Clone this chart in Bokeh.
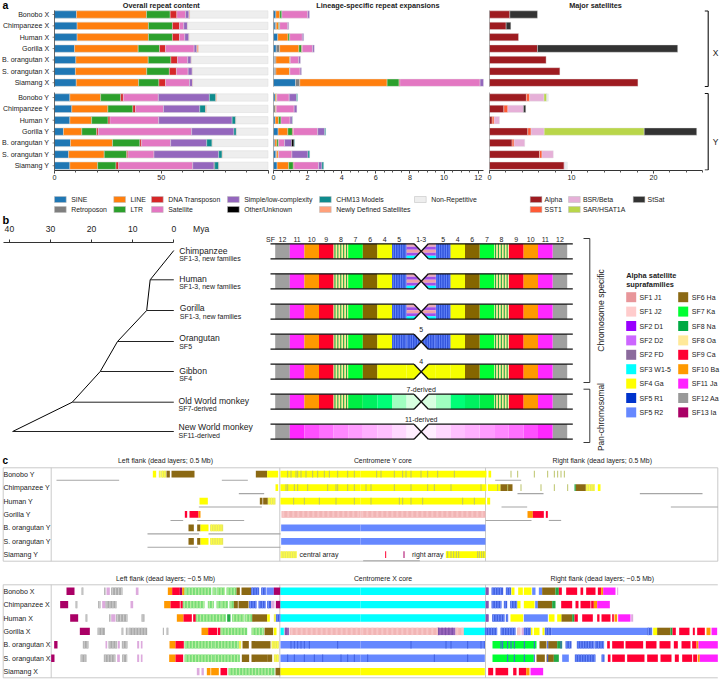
import numpy as np
from bokeh.core.properties import value
from bokeh.embed import file_html
from bokeh.layouts import column, row
from bokeh.models import FixedTicker, Label, LinearAxis, Range1d
from bokeh.plotting import figure
from bokeh.resources import INLINE

FONT = "Liberation Sans"
INK = "#222222"

# ---------- panel a ----------
rows_x = ["Bonobo X", "Chimpanzee X", "Human X", "Gorilla X", "B. orangutan X", "S. orangutan X", "Siamang X"]
rows_y = ["Bonobo Y", "Chimpanzee Y", "Human Y", "Gorilla Y", "B. orangutan Y", "S. orangutan Y", "Siamang Y"]
row_labels = rows_x + rows_y
repeat_colors = ["#1f77b4", "#7f7f7f", "#ff7f0e", "#2ca02c", "#d62728", "#e377c2", "#9467bd", "#000000", "#0f8b8d", "#ffa07a", "#eeeeee"]

pct_sine = [10.3, 10.6, 10.6, 9.4, 10.0, 9.8, 10.2, 7.2, 8.1, 7.2, 4.2, 7.5, 6.6, 7.2]
pct_retro = [0, 0, 0, 0, 0, 0, 0, 0, 0, 0, 0, 0, 0, 0]
pct_line = [32.8, 33.4, 33.4, 29.8, 33.9, 33.4, 29.2, 14.4, 16.9, 10.2, 8.6, 19.7, 16.7, 13.0]
pct_ltr = [11.1, 11.25, 11.25, 10.0, 10.6, 10.6, 9.5, 9.4, 11.7, 7.7, 6.9, 12.8, 10.5, 8.6]
pct_dna = [3.1, 3.3, 3.3, 2.8, 3.1, 3.3, 3.1, 1.25, 1.25, 0.9, 0.8, 0.8, 0.6, 1.25]
pct_sat = [4.1, 2.0, 2.5, 13.4, 4.8, 5.5, 11.25, 16.4, 13.1, 22.8, 43.75, 13.6, 12.2, 34.7]
pct_simple = [1.6, 1.7, 1.9, 1.25, 1.6, 1.9, 1.4, 23.9, 17.0, 34.4, 19.8, 16.9, 30.3, 10.0]
pct_other = [0.1, 0, 0, 0.1, 0, 0, 0, 0, 0, 0, 0, 0, 0, 0.3]
pct_chm13 = [0, 0, 0, 0, 0, 0, 0, 3.0, 2.7, 1.7, 1.1, 2.5, 1.6, 1.9]
pct_newly = [0.3, 0.1, 0.1, 0.7, 0.1, 0.1, 0.2, 0.4, 0.4, 0.1, 0.1, 0.1, 0.2, 0.1]
pct_table = [pct_sine, pct_retro, pct_line, pct_ltr, pct_dna, pct_sat, pct_simple, pct_other, pct_chm13, pct_newly]

mb_sine = [0.14, 0.10, 0.25, 0.16, 0.06, 0.06, 1.29, 0.10, 0.02, 0.10, 0.27, 0.08, 0.14, 0.21]
mb_retro = [0, 0.06, 0, 0.20, 0.08, 0.08, 0.25, 0, 0.10, 0, 0, 0, 0.04, 0]
mb_line = [0.23, 0.14, 0.60, 1.13, 0.82, 0.80, 5.12, 0.08, 0.04, 0.20, 0.57, 0.12, 0.10, 0.68]
mb_ltr = [0.12, 0.06, 0.10, 0.16, 0.02, 0.02, 0.70, 0.02, 0, 0.14, 0.27, 0.10, 0.02, 0.27]
mb_dna = [0, 0, 0, 0.04, 0, 0, 0.05, 0, 0, 0, 0.06, 0, 0, 0.04]
mb_sat = [1.52, 0.47, 0.74, 0.60, 0.50, 0.60, 4.70, 0.72, 1.05, 0.53, 1.42, 0.35, 0.78, 1.44]
mb_simple = [0.10, 0.06, 0.08, 0.10, 0.10, 0.08, 0.20, 0.43, 0.16, 0.13, 0.41, 0.41, 0.94, 0.20]
mb_other = [0, 0, 0, 0, 0, 0, 0, 0, 0, 0, 0, 0.14, 0, 0]
mb_chm13 = [0, 0, 0, 0, 0, 0, 0, 0.06, 0, 0.02, 0.06, 0.04, 0.10, 0.10]
mb_table = [mb_sine, mb_retro, mb_line, mb_ltr, mb_dna, mb_sat, mb_simple, mb_other, mb_chm13]

sat_colors = ["#9e1b20", "#ff5a36", "#e6b0d8", "#b9d64a", "#333333", "#e8eef0"]
sat_alpha = [2.48, 2.03, 3.54, 5.85, 6.9, 8.58, 18.1, 4.5, 1.75, 0.33, 4.67, 2.76, 6.1, 9.1]
sat_sst1 = [0, 0, 0, 0, 0, 0, 0, 0.4, 0.49, 0.24, 0.4, 0.24, 0.3, 0]
sat_bsr = [0, 0, 0, 0, 0, 0, 0, 1.75, 1.9, 0.65, 1.6, 1.3, 1.38, 0.1]
sat_sar = [0, 0, 0, 0, 0, 0, 0, 0.33, 0, 0, 12.2, 0, 0, 0]
sat_stsat = [3.37, 0.57, 0, 17.1, 0, 0, 0, 0, 0.28, 0, 6.4, 0, 0, 0]
sat_minor = [0, 0, 0, 0, 0, 0, 0, 0.2, 0, 0, 0, 0, 0, 0.3]
sat_table = [sat_alpha, sat_sst1, sat_bsr, sat_sar, sat_stsat, sat_minor]

row_pos = [0, 1, 2, 3, 4, 5, 6, 7.3, 8.3, 9.3, 10.3, 11.3, 12.3, 13.3]


def blank(w, h, xr, yr, **kw):
    p = figure(width=w, height=h, x_range=xr, y_range=yr, output_backend="svg", toolbar_location=None,
               x_axis_location=kw.pop("xloc", None), y_axis_location=kw.pop("yloc", None),
               min_border_left=kw.pop("left", 0), min_border_right=0,
               min_border_top=kw.pop("top", 0), min_border_bottom=kw.pop("bottom", 0))
    p.outline_line_color = None
    p.grid.visible = False
    p.background_fill_color = None
    p.border_fill_color = None
    return p


def txt(p, x, y, s, size=7.0, align="left", bold=False, color=INK, angle=0, **kw):
    xs = x if isinstance(x, (list, np.ndarray)) else [x]
    ys = y if isinstance(y, (list, np.ndarray)) else [y]
    ss = s if isinstance(s, list) else [s]
    p.text(xs, ys, text=ss, text_font=value(FONT), text_font_size=f"{size}px", text_align=align,
           text_baseline="middle", text_color=color, angle=angle,
           text_font_style="bold" if bold else "normal", **kw)


def style_axis(ax):
    ax.axis_line_color = "#333333"
    ax.major_tick_line_color = "#333333"
    ax.minor_tick_line_color = "#555555"
    ax.major_tick_out = 3
    ax.major_tick_in = 0
    ax.minor_tick_out = 2
    ax.minor_tick_in = 0
    ax.major_label_text_font = FONT
    ax.major_label_text_font_size = "7.2px"
    ax.major_label_text_color = INK
    ax.major_label_standoff = 1


def bar_panel(w, left, xmin, xmax, table, colors, title, title_x, xlabel, label_x, ticks, minors, bound, total_to=None):
    yr = Range1d(13.72, -1.23)
    p = blank(w, 190, Range1d(xmin, xmax), yr, xloc="below", left=left, bottom=20)
    p.extra_y_ranges["px"] = Range1d(170, 0)
    cum = np.zeros(14)
    ypos = np.array(row_pos)
    if total_to is not None:
        p.hbar(y=ypos, left=0, right=total_to, height=0.64, color=repeat_colors[-1], line_color="#dddddd", line_width=0.5)
    for vals, c in zip(table, colors):
        vals = np.array(vals, dtype=float)
        keep = vals > 0
        p.hbar(y=ypos[keep], left=cum[keep], right=(cum + vals)[keep], height=0.64, fill_color=c,
               line_color="#e4e4e4", line_width=0.4)
        cum += vals
    ax = p.xaxis[0]
    style_axis(ax)
    ax.ticker = FixedTicker(ticks=ticks, minor_ticks=minors)
    ax.bounds = bound
    p.segment(x0=[0, 0], y0=[-0.36, 6.86], x1=[0, 0], y1=[6.36, 13.72], line_color="#444444", line_width=0.8)
    p.text([title_x], [4.5], text=[title], y_range_name="px", text_font=value(FONT), text_font_size="7.3px",
           text_font_style="bold", text_align="center", text_baseline="middle", text_color=INK)
    p.add_layout(Label(x=label_x, y=184, y_range_name="px", text=xlabel, text_font=FONT, text_font_size="7px",
                       text_color=INK, text_align="center", text_baseline="middle"))
    return p


a1 = bar_panel(270, 0, -54 / 2.135, 216 / 2.135, pct_table, repeat_colors, "Overall repeat content", 50, "% of chromosome", 50,
               [0, 50, 100], list(range(0, 101, 10)), (0, 100), total_to=100)
a2 = bar_panel(216, 3, 0, 213 / 17.06, mb_table, repeat_colors, "Lineage-specific repeat expansions", 6.12, "Megabases", 6.2,
               list(range(0, 13, 2)), [i / 2 for i in range(0, 25)], (0, 12.3))
a3 = bar_panel(234, 3, 0, 231 / 8.2, sat_table, sat_colors, "Major satellites", 12.93, "Megabases", 12.9,
               [0, 10, 20], list(range(0, 27, 2)), (0, 26))

a1.extra_x_ranges["px"] = Range1d(0, 270)
txt(a1, [48.6] * 14, row_pos, row_labels, size=7.06, align="right", x_range_name="px")
txt(a1, [2], [4.8], "a", size=10.5, bold=True, color="#000000", x_range_name="px", y_range_name="px")
a1.segment(x0=[-0.9] * 14, y0=row_pos, x1=[0] * 14, y1=row_pos, line_color="#555555", line_width=0.7)
a1.xaxis[0].major_label_overrides = {100: ""}
a1.add_layout(Label(x=100, y=13.72, text="100", text_font=FONT, text_font_size="7.2px", text_color=INK, text_align="right",
                    text_baseline="top", x_offset=1.5, y_offset=-4))

# brackets for X and Y
a3.extra_x_ranges["px"] = Range1d(489, 720)
bx = [704.3, 707.7, 704.3, 704.3, 707.7, 704.3]
by0 = [10.5, 10.5, 86, 93, 93, 169.5]
bx1 = [707.7, 707.7, 707.7, 707.7, 707.7, 707.7]
by1 = [10.5, 86, 86, 93, 169.5, 169.5]
a3.segment(bx, by0, bx1, by1, x_range_name="px", y_range_name="px", line_color="#111111", line_width=1.1)
a3.text([715, 715], [52, 141], text=["X", "Y"], x_range_name="px", y_range_name="px", text_font=value(FONT),
        text_font_size="8.5px", text_align="center", text_baseline="middle", text_color=INK)

# legend strip
leg = blank(720, 25, Range1d(0, 720), Range1d(215, 190))
leg_x = [54, 54, 113.3, 113.3, 151, 151, 227, 227, 319, 319, 414]
leg_row = [199, 209, 199, 209, 199, 209, 199, 209, 199, 209, 199]
leg_names = ["SINE", "Retroposon", "LINE", "LTR", "DNA Transposon", "Satellite", "Simple/low-complexity", "Other/Unknown", "CHM13 Models", "Newly Defined Satellites", "Non-Repetitive"]
leg_cols = ["#1f77b4", "#7f7f7f", "#ff7f0e", "#2ca02c", "#d62728", "#e377c2", "#9467bd", "#000000", "#0f8b8d", "#ffa07a", "#eeeeee"]
sleg_x = [529.7, 529.7, 568, 568, 632.7]
sleg_row = [199, 209, 199, 209, 199]
sleg_names = ["Alpha", "SST1", "BSR/Beta", "SAR/HSAT1A", "StSat"]
sleg_cols = ["#9e1b20", "#ff5a36", "#e6b0d8", "#b9d64a", "#333333"]
for xs, ys, names, cols in [(leg_x, leg_row, leg_names, leg_cols), (sleg_x, sleg_row, sleg_names, sleg_cols)]:
    xs = np.array(xs)
    ys = np.array(ys)
    off = 16.7 if names is leg_names else 14.4
    leg.quad(left=xs, right=xs + 11.7, top=ys - 3, bottom=ys + 3, fill_color=cols, line_color="#bbbbbb", line_width=0.5)
    txt(leg, list(xs + off), list(ys), list(names), size=6.9)

# ---------- panel b : tree ----------
B_BOTTOM = 455
mya_range = Range1d(42.16, -21.09)
# the time axis sits on the bottom edge of its own strip; ticks point up, labels are written above them
mya_strip = blank(260, 29, mya_range, Range1d(242, 215), xloc="below", bottom=2)
mya_strip.extra_x_ranges["px"] = Range1d(0, 260)
mya_ticks = [40, 30, 20, 10, 0]
tax = mya_strip.xaxis[0]
style_axis(tax)
tax.ticker = FixedTicker(ticks=mya_ticks)
tax.bounds = (41.4, 0)
tax.major_tick_out = 0
tax.major_tick_in = 3
tax.axis_line_width = 1
tax.major_label_text_font_size = "1px"
tax.major_label_text_color = "#ffffff"
tax.major_label_overrides = {t: "" for t in mya_ticks}
tax.major_label_standoff = 0
txt(mya_strip, mya_ticks, [228] * 5, [str(t) for t in mya_ticks], size=8.6, align="center")
txt(mya_strip, [192.5], [228.5], "Mya", size=8.6, x_range_name="px")
txt(mya_strip, [2], [219.5], "b", size=11, bold=True, color="#000000", x_range_name="px")

tree = blank(260, B_BOTTOM - 215 - 29, mya_range, Range1d(B_BOTTOM, 244))
tree.extra_x_ranges["px"] = Range1d(0, 260)

tip_names = ["Chimpanzee", "Human", "Gorilla", "Orangutan", "Gibbon", "Old World monkey", "New World monkey"]
tip_notes = ["SF1-3, new families", "SF1-3, new families", "SF1-3, new families", "SF5", "SF4", "SF7-derived", "SF11-derived"]
node_mya = [5.75, 6.6, 13.7, 17.9, 24.7, 39.2]
node_y = [279.3, 310, 341, 371, 401.7, 431]
tip_y = [250, 279.3, 310, 341, 371, 401.7, 431]
name_x = [178.7, 178.7, 179.3, 178.7, 178.7, 178, 178]
name_y = [250, 278, 307, 337.7, 370.3, 400, 426.7]
note_y = [257.7, 286, 315.7, 345.7, 378.3, 408.3, 435]
tree.segment(x0=node_mya[:-1], y0=node_y[:-1], x1=node_mya[1:], y1=node_y[1:], line_color="#000000", line_width=1)
tree.segment(x0=[node_mya[0]], y0=[node_y[0]], x1=[0], y1=[tip_y[0]], line_color="#000000", line_width=1)
tree.segment(x0=node_mya, y0=tip_y[1:], x1=[0] * 6, y1=tip_y[1:], line_color="#222222", line_width=1)
txt(tree, name_x, name_y, tip_names, size=8.6, x_range_name="px")
txt(tree, name_x, note_y, tip_notes, size=7, x_range_name="px")

# ---------- panel b : cartoons ----------
cart = blank(460, B_BOTTOM - 215, Range1d(260, 720), Range1d(B_BOTTOM, 215))
layer_names = ["12", "11", "10", "9", "8", "7", "6", "4", "5", "1-3"]
GR, MA, OR, RE, S8, GN, BR, YE, S5, S13 = "#a0a0a0", "#ff28ff", "#ff9900", "#ff0028", "S8", "#00ff33", "#856600", "#f5ff00", "S5", "S13"
row_chimp = [GR, MA, OR, RE, S8, GN, BR, YE, S5, S13]
row_human = [GR, MA, OR, RE, S8, GN, BR, YE, S5, S13]
row_gorilla = [GR, MA, OR, RE, S8, GN, BR, YE, S5, S13]
row_orang = [GR, MA, OR, RE, S8, GN, BR, YE, S5, S5]
row_gibbon = [GR, MA, OR, RE, S8, GN, BR, YE, YE, YE]
row_owm = [GR, MA, OR, RE, S8, "#00ee44", "#00f060", "#00ff77", "#a0ffc0", "#d8ffe0"]
row_nwm = [GR, "#ff28ff", "#ff50ff", "#ff70ff", "#ff88ff", "#ff9cff", "#ffb0ff", "#ffc0ff", "#ffd8ff", "#ffeeff"]
cart_rows = [row_chimp, row_human, row_gorilla, row_orang, row_gibbon, row_owm, row_nwm]
cart_tops = [243.3, 273.3, 303.7, 333.7, 363.7, 393.7, 423.7]
center = 420.7
seg_w = 14.6
ch_h = 15
for top, colors in zip(cart_tops, cart_rows):
    for side in (-1, 1):
        for k, c in enumerate(colors):
            a = center + side * (146 - k * seg_w)
            b = a - side * seg_w
            l, r = min(a, b), max(a, b)
            if c == "S8":
                cart.quad(left=[l], right=[r], top=[top], bottom=[top + ch_h], color="#ffe999", line_width=0)
                st = np.arange(l + 0.8, r - 0.5, 2.9)
                cart.quad(left=st, right=st + 1.1, top=top, bottom=top + ch_h, color="#22aa44", line_width=0)
            elif c == "S5":
                cart.quad(left=[l], right=[r], top=[top], bottom=[top + ch_h], color="#3355dd", line_width=0)
                st = np.arange(l + 0.8, r - 0.5, 2.4)
                cart.quad(left=st, right=st + 0.8, top=top, bottom=top + ch_h, color="#6f8fff", line_width=0)
            elif c == "S13":
                bands = ["#e8a8b8", "#a050e8", "#eea0a8", "#a050e8", "#00ffff"]
                bt = top + np.arange(5) * 3.0
                cart.quad(left=l, right=r, top=bt, bottom=bt + 3.0, color=bands, line_width=0)
            else:
                cart.quad(left=[l], right=[r], top=[top], bottom=[top + ch_h], color=c, line_width=0)
    mid = top + ch_h / 2
    cart.patch([center - 7.2, center + 7.2, center], [top - 1, top - 1, mid], color="#ffffff", line_width=0)
    cart.patch([center - 7.2, center + 7.2, center], [top + ch_h + 1, top + ch_h + 1, mid], color="#ffffff", line_width=0)
    lx0 = [270, center + 7.2, 270, center + 7.2, center - 7.2, center - 7.2]
    lx1 = [center - 7.2, 572.3, center - 7.2, 572.3, center + 7.2, center + 7.2]
    ly0 = [top, top, top + ch_h, top + ch_h, top, top + ch_h]
    ly1 = [top, top, top + ch_h, top + ch_h, top + ch_h, top]
    cart.segment(lx0, ly0, lx1, ly1, line_color="#111111", line_width=1.3)

left_centres = center - 146 + seg_w * (np.arange(10) + 0.5)
lab_xs = [270.0] + list(left_centres[:-1]) + [center] + list((2 * center - left_centres[:-1])[::-1])
lab_ss = ["SF"] + layer_names[:-1] + ["1-3"] + layer_names[:-1][::-1]
txt(cart, lab_xs, [238.7] * len(lab_xs), lab_ss, size=7, align="center")
txt(cart, [center] * 4, [329, 360.7, 389, 418.7], ["5", "4", "7-derived", "11-derived"], size=7, align="center")

brk_x0 = [583, 589.3, 583, 583, 589.3, 583]
brk_y0 = [238, 238, 382, 388.7, 388.7, 442]
brk_x1 = [589.3, 589.3, 589.3, 589.3, 589.3, 589.3]
brk_y1 = [238, 382, 382, 388.7, 442, 442]
cart.segment(brk_x0, brk_y0, brk_x1, brk_y1, line_color="#222222", line_width=0.9)
txt(cart, [600.7], [310], "Chromosome specific", size=8.6, align="center", angle=np.pi / 2)
txt(cart, [600.7], [416.5], "Pan-chromosomal", size=8.4, align="center", angle=np.pi / 2)

txt(cart, [625.7, 625.7], [275, 283.7], ["Alpha satellite", "suprafamilies"], size=7.4, bold=True)
sf_col1 = ["SF1 J1", "SF1 J2", "SF2 D1", "SF2 D2", "SF2 FD", "SF3 W1-5", "SF4 Ga", "SF5 R1", "SF5 R2"]
sf_col1_colors = ["#e8969a", "#ffcccc", "#9900ff", "#cc66ff", "#8b6a9c", "#00ffff", "#ffff00", "#0033cc", "#6688ff"]
sf_col2 = ["SF6 Ha", "SF7 Ka", "SF8 Na", "SF8 Oa", "SF9 Ca", "SF10 Ba", "SF11 Ja", "SF12 Aa", "SF13 Ia"]
sf_col2_colors = ["#8b6914", "#00ff33", "#00aa44", "#ffe999", "#ff0033", "#ff9900", "#ff22ff", "#999999", "#aa0066"]
sf_y = 296.7 + 14.4 * np.arange(9)
for sx, tx, names, cols in [(625.7, 639, sf_col1, sf_col1_colors), (677.7, 691.3, sf_col2, sf_col2_colors)]:
    cart.quad(left=sx, right=sx + 10, top=sf_y - 5, bottom=sf_y + 5, color=cols, line_width=0)
    txt(cart, [tx] * 9, list(sf_y), names, size=7)

# ---------- panel c ----------
C = {"Y": "#ffff00", "y": "#e8e85a", "b": "#8b6914", "r": "#ff0033", "o": "#ff9900", "m": "#ff22ff", "i": "#aa0066",
     "a": "#aaaaaa", "p": "#f2b5b5", "B": "#6688ff", "D": "#4060e0", "c": "#00ffff", "G": "#00ff33", "g": "#77dd77",
     "d": "#9966bb", "l": "#ddaadd", "n": "#22aa44"}
STRIPES = {"g": ("#b8eea0", 3.2), "y": ("#ffff44", 2.4), "a": ("#cccccc", 3.0), "D": ("#7090ff", 2.6),
           "p": ("#f7c6c6", 5.0), "d": ("#7d4fa8", 3.4)}

bonobo_y_l = [(457, 467, "Y"), (475, 480, "y"), (482, 497, "y"), (498, 508, "b"), (513, 582, "b"), (766, 800, "b"), (800, 833, "Y"), (840, 1080, "Y")]
bonobo_y_r = [(0, 378, "Y"), (384, 392, "Y")]
bonobo_y_ticks = [860, 870, 885, 890, 900, 915, 935, 950, 970, 985, 1010, 1040, 1060, 1127, 1140, 1180, 1205, 1215, 1230, 1260, 1280, 1310, 1360, 1530, 1550, 1600, 1640, 1660, 1670, 1680, 1690]
chimp_y_l = [(825, 833, "Y"), (840, 1080, "Y")]
chimp_y_r = [(0, 378, "Y"), (382, 420, "Y"), (420, 456, "b"), (642, 646, "n"), (646, 676, "b"), (676, 702, "y"), (712, 720, "Y")]
chimp_y_ticks = [855, 860, 880, 890, 920, 980, 1005, 1010, 1040, 1060, 1095, 1110, 1180, 1230, 1280, 1300, 1350, 1440, 1490, 1520, 1560, 1620, 1660, 1700]
human_y_l = [(597, 622, "Y"), (778, 786, "b"), (788, 802, "b"), (802, 825, "y"), (840, 1080, "Y")]
human_y_r = [(0, 375, "Y"), (380, 389, "Y")]
human_y_ticks = [878, 910, 955, 1005, 1060, 1110, 1195, 1205, 1230, 1265, 1385, 1420]
gorilla_y_l = [(553, 560, "r"), (567, 594, "r"), (594, 600, "o"), (843, 1080, "p")]
gorilla_y_r = [(0, 375, "p"), (501, 517, "o"), (517, 550, "r"), (556, 562, "r")]
gorilla_y_ticks = []
borang_y_l = [(564, 580, "b"), (590, 600, "b"), (600, 624, "Y"), (629, 668, "y"), (842, 1080, "B")]
borang_y_r = [(0, 375, "B")]
borang_y_ticks = []
sorang_y_l = [(564, 580, "b"), (590, 600, "b"), (600, 624, "Y"), (629, 668, "y"), (842, 1080, "B")]
sorang_y_r = [(0, 375, "B")]
sorang_y_ticks = []
siamang_y_l = [(840, 888, "y")]
siamang_y_r = [(74, 77, "r"), (129, 132, "i"), (256, 375, "Y")]
siamang_y_ticks = [1340, 1350, 1358, 1366, 1373, 1430, 1435, 1442, 1448]

y_gray_lines = [
    [(168, 356), (664, 742), (1484, 1562)],
    [(715, 791), (1551, 1629), (1918, 2106)],
    [(595, 784), (1503, 1580), (2011, 2152)],
    [(510, 548), (590, 731), (1455, 1593), (1645, 1682)],
    [(441, 596), (624, 840)],
    [(441, 592), (669, 840)],
    [(1088, 1258)],
]

bonobo_x_l = [(198, 222, "i"), (243, 248, "a"), (311, 315, "a"), (318, 328, "l"), (332, 366, "a"), (406, 414, "l"), (502, 515, "o"), (515, 538, "r"), (538, 545, "i"), (545, 552, "o"), (552, 632, "g"), (636, 646, "g"), (648, 672, "g"), (678, 708, "g"), (708, 718, "b"), (723, 752, "b"), (752, 776, "D"), (782, 796, "D"), (798, 820, "B"), (820, 840, "i"), (840, 1080, "c")]
bonobo_x_r = [(0, 375, "c"), (375, 385, "d"), (393, 428, "D"), (436, 452, "D"), (453, 462, "Y"), (473, 487, "Y"), (490, 513, "Y"), (515, 525, "B"), (535, 545, "B"), (545, 585, "b"), (585, 595, "n"), (595, 604, "r"), (617, 650, "r"), (660, 668, "r"), (677, 705, "r"), (712, 722, "r"), (722, 728, "o"), (728, 765, "m"), (770, 773, "l")]
chimp_x_l = [(179, 203, "i"), (225, 230, "a"), (293, 300, "a"), (305, 315, "l"), (315, 348, "a"), (390, 398, "l"), (491, 510, "o"), (510, 538, "r"), (540, 547, "r"), (547, 612, "g"), (622, 640, "g"), (648, 660, "g"), (660, 682, "g"), (687, 700, "g"), (700, 712, "b"), (714, 744, "b"), (746, 768, "D"), (774, 795, "D"), (800, 812, "D"), (812, 822, "l"), (826, 840, "i"), (840, 1080, "c")]
chimp_x_r = [(0, 375, "c"), (375, 385, "d"), (393, 423, "D"), (430, 440, "D"), (449, 470, "D"), (470, 480, "Y"), (490, 522, "Y"), (524, 532, "B"), (532, 575, "b"), (575, 585, "n"), (602, 635, "r"), (645, 654, "r"), (660, 690, "r"), (692, 700, "r"), (700, 710, "o"), (710, 748, "m")]
human_x_l = [(209, 233, "i"), (255, 260, "a"), (326, 330, "a"), (332, 345, "l"), (347, 381, "a"), (423, 432, "a"), (529, 549, "o"), (549, 574, "r"), (578, 586, "r"), (586, 676, "g"), (680, 690, "n"), (695, 732, "g"), (734, 755, "g"), (755, 800, "b"), (800, 808, "Y"), (820, 826, "y"), (826, 840, "D"), (840, 1080, "c")]
human_x_r = [(0, 375, "c"), (375, 385, "d"), (395, 432, "D"), (436, 443, "D"), (450, 488, "Y"), (490, 562, "B"), (565, 582, "Y"), (590, 603, "Y"), (603, 635, "b"), (635, 642, "n"), (642, 652, "r"), (665, 697, "r"), (710, 717, "r"), (723, 750, "r"), (755, 760, "r"), (762, 770, "o"), (773, 810, "m"), (812, 818, "l")]
gorilla_x_l = [(238, 268, "i"), (291, 313, "a"), (363, 368, "a"), (376, 381, "a"), (384, 440, "a"), (487, 490, "a"), (498, 503, "a"), (603, 623, "o"), (623, 650, "r"), (652, 660, "r"), (660, 740, "g"), (753, 790, "g"), (792, 818, "b"), (820, 828, "Y"), (840, 850, "c"), (852, 866, "d"), (868, 1080, "p")]
gorilla_x_r = [(0, 230, "p"), (230, 285, "d"), (285, 310, "p"), (310, 373, "c"), (373, 410, "D"), (420, 465, "D"), (470, 480, "p"), (483, 490, "l"), (490, 510, "D"), (510, 516, "Y"), (520, 537, "Y"), (546, 552, "Y"), (553, 572, "D"), (572, 860, "B"), (860, 875, "D"), (878, 890, "Y"), (890, 930, "b"), (930, 936, "n"), (936, 946, "r"), (956, 987, "r"), (997, 1003, "r"), (1010, 1033, "r"), (1038, 1050, "o"), (1053, 1070, "m")]
borang_x_l = [(161, 171, "i"), (247, 264, "a"), (315, 320, "l"), (324, 350, "a"), (352, 358, "l"), (364, 381, "a"), (410, 416, "l"), (421, 426, "l"), (507, 525, "o"), (525, 550, "r"), (552, 640, "g"), (640, 715, "g"), (715, 722, "y"), (726, 745, "b"), (753, 810, "b"), (813, 835, "y"), (840, 1080, "B")]
borang_x_r = [(0, 373, "B"), (396, 528, "G"), (537, 558, "b"), (563, 590, "b"), (590, 605, "n"), (615, 633, "D"), (649, 700, "D"), (702, 730, "D"), (740, 748, "r"), (755, 790, "r"), (795, 848, "r"), (856, 888, "r"), (897, 930, "r"), (940, 952, "r"), (963, 990, "r"), (995, 1008, "r"), (1008, 1014, "o"), (1014, 1072, "m")]
sorang_x_l = [(152, 162, "i"), (240, 258, "a"), (310, 345, "a"), (350, 358, "l"), (365, 380, "a"), (410, 416, "l"), (421, 426, "l"), (506, 525, "o"), (525, 548, "r"), (552, 640, "g"), (640, 718, "g"), (724, 746, "b"), (753, 800, "b"), (800, 815, "b"), (820, 835, "y"), (840, 1080, "B")]
sorang_x_r = [(0, 373, "B"), (396, 520, "G"), (528, 553, "b"), (558, 580, "b"), (580, 595, "n"), (605, 625, "B"), (643, 705, "D"), (723, 732, "D"), (742, 750, "r"), (755, 793, "r"), (800, 852, "r"), (860, 892, "r"), (900, 933, "r"), (943, 955, "r"), (965, 995, "r"), (998, 1010, "r"), (1012, 1018, "o"), (1018, 1072, "m")]
siamang_x_l = [(589, 597, "l"), (603, 610, "l"), (619, 630, "o"), (632, 655, "o"), (660, 680, "r"), (684, 822, "g"), (825, 840, "b"), (840, 1080, "Y")]
siamang_x_r = [(0, 373, "Y"), (383, 398, "r"), (405, 443, "r"), (458, 468, "r"), (475, 497, "r"), (497, 507, "o"), (510, 548, "m")]
x_core_ticks = [[], [], [], [], [870, 880, 890, 900, 910, 925, 1010, 1230, 1335, 1350, 1400, 1440, 1450, 1500, 1505, 1520, 1530, 1540, 1570, 1600, 1640, 1680], [860, 880, 910, 940, 965, 1020, 1040, 1060, 1100, 1300, 1400, 1520, 1540, 1570, 1600, 1640], []]


def rows_to_quads(p, blocks_l, blocks_r, yc, h):
    """blocks are read in 1/3-pixel units from the left and the right half of the panel."""
    ls, rs, cs = [], [], []
    sl, sr, sc = [], [], []
    for blocks, off in ((blocks_l, 0), (blocks_r, 360)):
        for a, b, code in blocks:
            l, r = off + a / 3, off + b / 3
            ls.append(l)
            rs.append(r)
            cs.append(C[code])
            if code in STRIPES:
                col, per = STRIPES[code]
                for s in np.arange(l + 0.8, r - 0.6, per):
                    sl.append(s)
                    sr.append(s + per * 0.4)
                    sc.append(col)
    p.quad(left=ls, right=rs, top=yc - h / 2, bottom=yc + h / 2, color=cs, line_width=0)
    if sl:
        p.quad(left=sl, right=sr, top=yc - h / 2, bottom=yc + h / 2, color=sc, line_width=0)


cfig = blank(720, 680 - B_BOTTOM, Range1d(0, 720), Range1d(680, B_BOTTOM))
y_rows = [(bonobo_y_l, bonobo_y_r, bonobo_y_ticks), (chimp_y_l, chimp_y_r, chimp_y_ticks), (human_y_l, human_y_r, human_y_ticks),
          (gorilla_y_l, gorilla_y_r, gorilla_y_ticks), (borang_y_l, borang_y_r, borang_y_ticks),
          (sorang_y_l, sorang_y_r, sorang_y_ticks), (siamang_y_l, siamang_y_r, siamang_y_ticks)]
x_rows = [(bonobo_x_l, bonobo_x_r), (chimp_x_l, chimp_x_r), (human_x_l, human_x_r), (gorilla_x_l, gorilla_x_r),
          (borang_x_l, borang_x_r), (sorang_x_l, sorang_x_r), (siamang_x_l, siamang_x_r)]
yc_y = 473.7 + 13.42 * np.arange(7)
yc_x = 590.7 + 13.4 * np.arange(7)

cfig.segment([2.7, 2.7, 2.7, 717.3, 50.7, 279.3, 485], [467.3, 560.7, 467.3, 467.3, 467.3, 467.3, 467.3],
             [717.3, 717.3, 2.7, 717.3, 50.7, 279.3, 485], [467.3, 560.7, 560.7, 560.7, 560.7, 560.7, 560.7],
             line_color="#c4c4c4", line_width=0.9)
cfig.segment([2.7, 2.7, 2.7, 50.7, 279.3, 485], [584.3, 677.3, 584.3, 584.3, 584.3, 584.3],
             [717.3, 717.3, 2.7, 50.7, 279.3, 485], [584.3, 677.3, 677.3, 677.3, 677.3, 677.3],
             line_color="#c4c4c4", line_width=0.9)

for yc, (l, r, t) in zip(yc_y, y_rows):
    rows_to_quads(cfig, l, r, yc, 6.8)
    if t:
        tx = np.array(t) / 3
        cfig.quad(left=tx, right=tx + 1.0, top=yc - 3.4, bottom=yc + 3.4, color="#bcc46a", line_width=0)
for yc, lines in zip(yc_y, y_gray_lines):
    xs = np.array(lines) / 3
    cfig.segment(xs[:, 0], yc + 6, xs[:, 1], yc + 6, line_color="#a6a6a6", line_width=1.1)
for yc, (l, r), t in zip(yc_x, x_rows, x_core_ticks):
    rows_to_quads(cfig, l, r, yc, 7.4)
    if t:
        tx = np.array(t) / 3
        cfig.quad(left=tx, right=tx + 1.0, top=yc - 3.7, bottom=yc + 3.7, color="#4060e0", line_width=0)

txt(cfig, [3] * 7, list(yc_y), rows_y, size=7.06)
txt(cfig, [3] * 7, list(yc_x), rows_x, size=7.06)
txt(cfig, [299, 411.5], [yc_y[6], yc_y[6]], ["central array", "right array"], size=7)
txt(cfig, [165, 382.5, 601.7], [460.3] * 3, ["Left flank (dead layers; 0.5 Mb)", "Centromere Y core", "Right flank (dead layers; 0.5 Mb)"], size=6.9, align="center")
txt(cfig, [165, 382.5, 601.7], [577.7] * 3, ["Left flank (dead layers; ~0.5 Mb)", "Centromere X core", "Right flank (dead layers; ~0.5 Mb)"], size=6.9, align="center")
txt(cfig, [2], [460], "c", size=10, bold=True, color="#000000")

left_b = column(mya_strip, tree, spacing=0)
root = column(row(a1, a2, a3, spacing=0), leg, row(left_b, cart, spacing=0), cfig, spacing=0)
open("out.html", "w").write(file_html(root, INLINE))
